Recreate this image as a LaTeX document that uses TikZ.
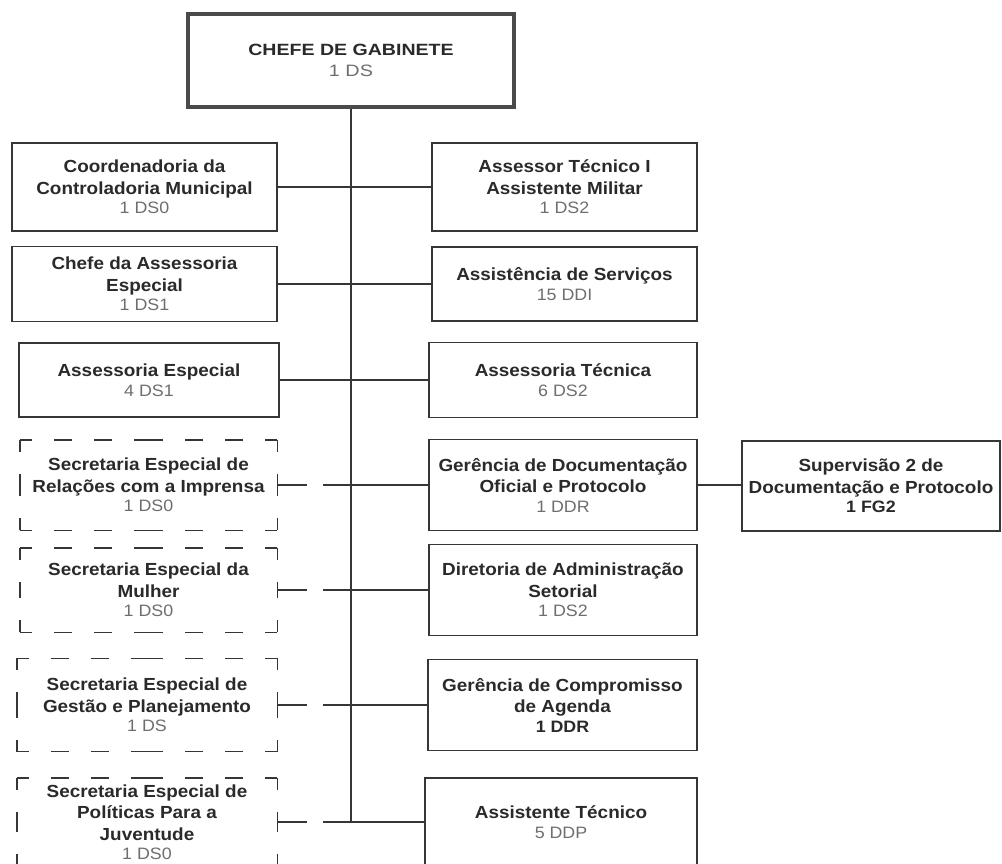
\documentclass[tikz,border=0pt]{standalone}
\usepackage{fontspec}
\setmainfont{Liberation Sans}[FakeStretch=1.08]
\newfontfamily\topfamily{Liberation Sans}[FakeStretch=1.2]
\definecolor{linec}{HTML}{363636}
\definecolor{titlec}{HTML}{2A2A2A}
\definecolor{countc}{HTML}{6E6E6E}
\newcommand\boxtitle{\fontsize{17.5}{21.5}\selectfont\bfseries\color{titlec}}
\newcommand\boxcount{\fontsize{16.5}{21.5}\selectfont\mdseries\color{countc}}
\newcommand\boxcountb{\fontsize{16.5}{21.5}\selectfont\bfseries\color{titlec}}
\newcommand\dashframe[1]{%
  \draw[dline] (#1.north west) -- (#1.north);
  \draw[dline] (#1.north east) -- (#1.north);
  \draw[dline] (#1.north east) -- (#1.east);
  \draw[dline] (#1.south east) -- (#1.east);
  \draw[dline] (#1.south east) -- (#1.south);
  \draw[dline] (#1.south west) -- (#1.south);
  \draw[dline] (#1.south west) -- (#1.west);
  \draw[dline] (#1.north west) -- (#1.west);}
\tikzset{
  orgbox/.style={draw=linec, line width=1.4pt, align=center, inner sep=0pt, fill=white, font=\boxtitle},
  dbox/.style={draw=none, align=center, inner sep=0pt, font=\boxtitle},
  topbox/.style={draw=linec!90, line width=3.5pt, align=center, inner sep=0pt},
  dline/.style={draw=linec, line width=1.4pt, dash pattern=on 18pt off 22pt, dash phase=6pt},
  conn/.style={draw=linec, line width=1.4pt},
  dconn/.style={draw=linec, line width=1.4pt, dash pattern=on 30pt off 16pt on 400pt off 1pt}
}
\begin{document}
\begin{tikzpicture}[x=1pt,y=-1pt]
\useasboundingbox[fill=white] (0,0) rectangle (1002,864);

% top
\node[topbox, minimum width=326pt, minimum height=93pt, font=\topfamily\fontsize{16.3}{21.5}\selectfont\bfseries\color{titlec}] (top) at (351,60.5)
  {CHEFE DE GABINETE\\{\boxcount 1 DS}};
\coordinate (spineend) at (351,822);

% left column
\node[orgbox, minimum width=265pt, minimum height=88pt] (l1) at (144.5,187)
  {Coordenadoria da\\Controladoria Municipal\\[-2pt]{\boxcount 1 DS0}};
\node[orgbox, minimum width=265pt, minimum height=75pt] (l2) at (144.5,284)
  {Chefe da Assessoria\\Especial\\[-2pt]{\boxcount 1 DS1}};
\node[orgbox, minimum width=260pt, minimum height=74pt] (l3) at (149,380)
  {Assessoria Especial\\[-2pt]{\boxcount 4 DS1}};
\node[dbox, minimum width=257pt, minimum height=90pt] (l4) at (148.5,485)
  {Secretaria Especial de\\Relações com a Imprensa\\[-2pt]{\boxcount 1 DS0}};
\node[dbox, minimum width=257pt, minimum height=84pt] (l5) at (148.5,590)
  {Secretaria Especial da\\Mulher\\[-2pt]{\boxcount 1 DS0}};
\node[dbox, minimum width=260pt, minimum height=93pt] (l6) at (147,705)
  {Secretaria Especial de\\Gestão e Planejamento\\[-2pt]{\boxcount 1 DS}};
\node[dbox, minimum width=260pt, minimum height=88pt] (l7) at (147,822)
  {Secretaria Especial de\\Políticas Para a\\Juventude\\[-2pt]{\boxcount 1 DS0}};
\dashframe{l4}
\dashframe{l5}
\dashframe{l6}
\dashframe{l7}

% right column
\node[orgbox, minimum width=265pt, minimum height=88pt] (r1) at (564.5,187)
  {Assessor Técnico I\\Assistente Militar\\[-2pt]{\boxcount 1 DS2}};
\node[orgbox, minimum width=265pt, minimum height=74pt] (r2) at (564.5,284)
  {Assistência de Serviços\\[-2pt]{\boxcount 15 DDI}};
\node[orgbox, minimum width=268pt, minimum height=75pt] (r3) at (563,380)
  {Assessoria Técnica\\[-2pt]{\boxcount 6 DS2}};
\node[orgbox, minimum width=268pt, minimum height=91pt] (r4) at (563,485)
  {Gerência de Documentação\\Oficial e Protocolo\\[-2pt]{\boxcount 1 DDR}};
\node[orgbox, minimum width=268pt, minimum height=91pt] (r5) at (563,590)
  {Diretoria de Administração\\Setorial\\[-2pt]{\boxcount 1 DS2}};
\node[orgbox, minimum width=269pt, minimum height=91pt] (r6) at (562.5,705)
  {Gerência de Compromisso\\de Agenda\\[-2pt]{\boxcountb 1 DDR}};
\node[orgbox, minimum width=272pt, minimum height=88pt] (r7) at (561,822)
  {Assistente Técnico\\[-2pt]{\boxcount 5 DDP}};
\node[orgbox, minimum width=258pt, minimum height=90pt] (s) at (871,486)
  {Supervisão 2 de\\Documentação e Protocolo\\[-2pt]{\boxcountb 1 FG2}};

% connectors
\draw[conn] (top.south) -- (spineend);
\draw[conn] (l1.east) -- (l1.east -| r1.west);
\draw[conn] (l2.east) -- (l2.east -| r2.west);
\draw[conn] (l3.east) -- (l3.east -| r3.west);
\draw[dconn] (l4.east) -- (l4.east -| r4.west);
\draw[dconn] (l5.east) -- (l5.east -| r5.west);
\draw[dconn] (l6.east) -- (l6.east -| r6.west);
\draw[dconn] (l7.east) -- (l7.east -| r7.west);
\draw[conn] (r4.east) -- (r4.east -| s.west);
\end{tikzpicture}
\end{document}
